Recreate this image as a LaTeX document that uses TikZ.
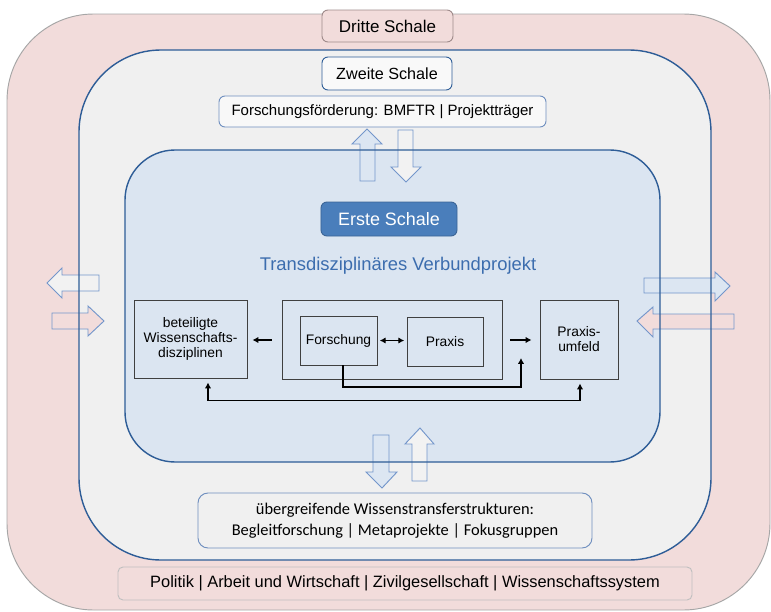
\documentclass[tikz,border=0pt]{standalone}
\usepackage{fontspec}
\setmainfont{Liberation Sans}
\newfontfamily\calib{Carlito}
\usetikzlibrary{calc,arrows.meta}
\definecolor{pinkF}{HTML}{F2DCDB}
\definecolor{grayF}{HTML}{F0F0F0}
\definecolor{blueF}{HTML}{DBE5F1}
\definecolor{shellB}{HTML}{2E5D97}
\definecolor{outerB}{HTML}{A6A6A6}
\definecolor{ersteF}{HTML}{4A7EBB}
\definecolor{ersteB}{HTML}{3B6496}
\definecolor{titleC}{HTML}{3C6DAE}
\definecolor{barB}{HTML}{7396CB}
\definecolor{barBlue}{HTML}{DCE6F2}
\definecolor{barGray}{HTML}{F2F2F2}
\definecolor{boxB}{HTML}{404040}
\definecolor{lblB}{HTML}{6F8FBF}
\definecolor{dritteB}{HTML}{9E8A8A}
\definecolor{politB}{HTML}{BFBFBF}
\begin{document}
\begin{tikzpicture}[x=0.03cm,y=-0.03cm,
  barrow/.style={draw=barB,line width=0.8pt,line join=miter},
  shellline/.style={draw=shellB,line width=1.2pt},
  lbl/.style={draw,line width=0.8pt,align=center,inner sep=0pt,rounded corners=0.18cm},
  cbox/.style={draw=boxB,line width=0.8pt,align=center,inner sep=0pt,font={\fontsize{11.8}{12.8}\selectfont}},
  arr/.style={draw=black,line width=1.2pt,-{Latex[length=5pt,width=5.5pt]}},
  darr/.style={draw=black,line width=1.2pt,{Latex[length=5pt,width=5.5pt]}-{Latex[length=5pt,width=5.5pt]}}]
\useasboundingbox (0,0) rectangle (771,612);
% shell fills
\path[fill=pinkF,rounded corners=2.6cm] (7,14) rectangle (770,610);
\path[fill=grayF,rounded corners=2.46cm] (79,50) rectangle (711,560);
\path[fill=blueF,rounded corners=1.5cm] (125,150) rectangle (660,462);
% block arrows
\filldraw[barrow,fill=barBlue] (367,129) -- (382,144) -- (375,144) -- (375,181) -- (360,181) -- (360,144) -- (352,144) -- cycle;
\filldraw[barrow,fill=barGray] (406,182) -- (421,167) -- (413,167) -- (413,130) -- (398,130) -- (398,167) -- (391,167) -- cycle;
\filldraw[barrow,fill=barBlue] (382,488) -- (397,472) -- (389,472) -- (389,435) -- (373,435) -- (373,472) -- (366,472) -- cycle;
\filldraw[barrow,fill=barGray] (420,428) -- (434,444) -- (427,444) -- (427,481) -- (412,481) -- (412,444) -- (405,444) -- cycle;
\filldraw[barrow,fill=barGray] (47,283) -- (62,268) -- (62,275) -- (99,275) -- (99,291) -- (62,291) -- (62,298) -- cycle;
\filldraw[barrow,fill=pinkF] (104,321) -- (88,306) -- (88,313) -- (52,313) -- (52,329) -- (88,329) -- (88,336) -- cycle;
\filldraw[barrow,fill=barBlue] (730,286) -- (715,272) -- (715,278) -- (644,278) -- (644,293) -- (715,293) -- (715,301) -- cycle;
\filldraw[barrow,fill=pinkF] (637,321) -- (653,307) -- (653,314) -- (734,314) -- (734,329) -- (653,329) -- (653,337) -- cycle;
% shell borders
\draw[outerB,line width=0.8pt,rounded corners=2.6cm] (7,14) rectangle (770,610);
\draw[shellline,rounded corners=2.46cm] (79,50) rectangle (711,560);
\draw[shellline,rounded corners=1.5cm] (125,150) rectangle (660,462);
% labels
\node[lbl,draw=dritteB,fill=pinkF,minimum width=3.93cm,minimum height=0.96cm,font={\fontsize{14.5}{17}\selectfont}] (dritte) at (387.5,26) {Dritte Schale};
\node[lbl,draw=shellB,fill=white!60!grayF,minimum width=3.9cm,minimum height=0.99cm,font={\fontsize{13.8}{16}\selectfont}] (zweite) at (387,73.5) {Zweite Schale};
\node[lbl,draw=lblB,fill=white!50!grayF,minimum width=9.81cm,minimum height=0.93cm,font={\fontsize{12.8}{15}\selectfont}] (ff) at (382.5,111.5) {Forschungsförderung: BMFTR | Projektträger};
\node[lbl,draw=ersteB,fill=ersteF,text=white,minimum width=4.08cm,minimum height=1.02cm,font={\fontsize{15.3}{18}\selectfont}] (erste) at (389,219) {Erste Schale};
\node[text=titleC,inner sep=0pt,font={\fontsize{15.7}{18}\selectfont}] (title) at (398,266) {Transdisziplinäres Verbundprojekt};
% inner boxes
\node[cbox,minimum width=3.39cm,minimum height=2.34cm] (bet) at (190.5,339) {beteiligte\\ Wissenschafts-\\ disziplinen};
\node[cbox,minimum width=6.6cm,minimum height=2.37cm] (big) at (392,339.5) {};
\node[cbox,minimum width=2.31cm,minimum height=1.47cm] (fo) at (338.5,340.5) {Forschung};
\node[cbox,minimum width=2.28cm,minimum height=1.47cm] (pr) at (445,341.5) {Praxis};
\node[cbox,minimum width=2.34cm,minimum height=2.37cm] (um) at (579,339.5) {Praxis-\\ umfeld};
% black connectors
\draw[arr] ($(big.west)+(-10,0.5)$) -- ($(bet.east)+(5,1)$);
\draw[darr,shorten <=2pt,shorten >=2pt] (fo.east) -- (fo.east -| pr.west);
\draw[arr] ($(big.east)+(8,0.5)$) -- ($(um.west)+(-8,0.5)$);
\coordinate (tipA) at (521,358);
\draw[arr] ($(fo.south)+(4.5,0)$) |- ($(tipA)+(0,29)$) -- (tipA);
\draw[darr] ($(bet.south)+(17.5,4)$) |- ($(bet.south)+(150,22)$) -| ($(um.south)+(1,4)$);
% bottom labels
\node[lbl,draw=lblB,fill=grayF,rounded corners=0.3cm,minimum width=11.82cm,minimum height=1.65cm,font={\calib\fontsize{14}{17.9}\selectfont}] (ueber) at (395,520.5) {übergreifende Wissenstransferstrukturen:\\ Begleitforschung | Metaprojekte | Fokusgruppen};
\node[lbl,draw=politB,fill=pinkF,rounded corners=0.15cm,minimum width=17.22cm,minimum height=0.99cm,font={\fontsize{14}{16}\selectfont}] (polit) at (405,583.5) {Politik | Arbeit und Wirtschaft | Zivilgesellschaft | Wissenschaftssystem};
\end{tikzpicture}
\end{document}
